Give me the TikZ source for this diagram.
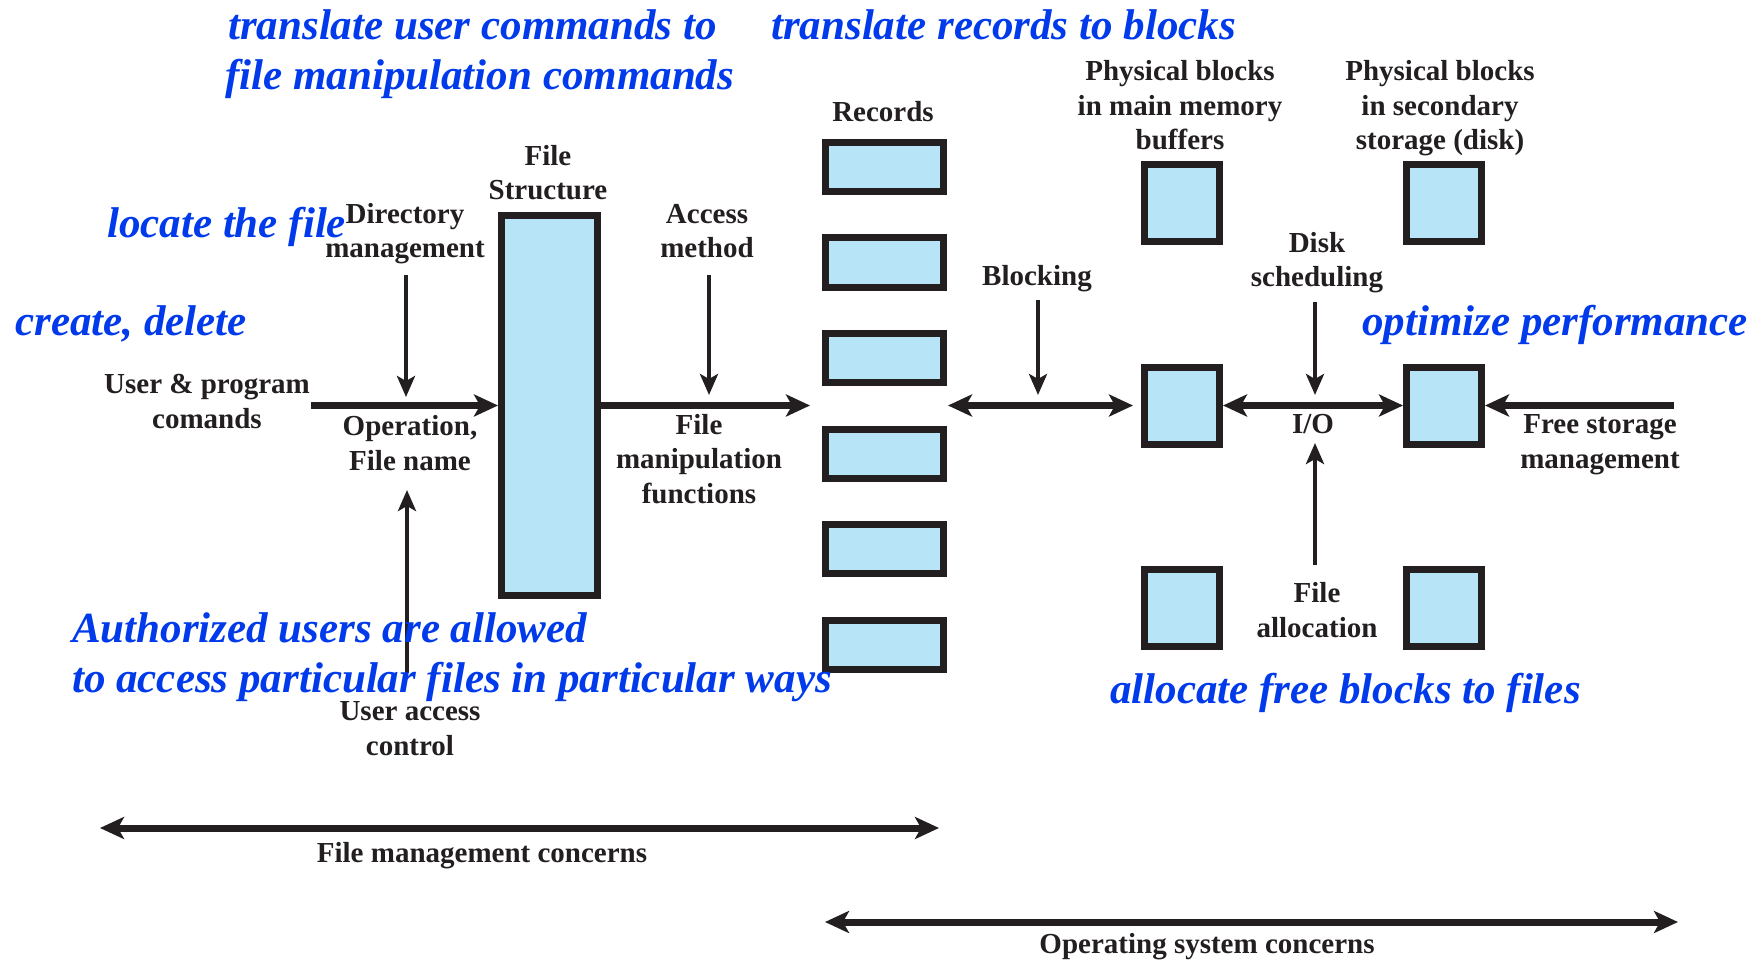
\documentclass[tikz,border=0pt]{standalone}
\usepackage{fontspec}
\setmainfont{Liberation Serif}
\usetikzlibrary{arrows.meta}
\definecolor{ink}{HTML}{231F20}
\definecolor{boxfill}{HTML}{B8E4F8}
\definecolor{note}{RGB}{0,58,235}
\tikzset{
  bigtip/.tip={Stealth[length=24pt,width=22pt,inset=6pt]},
  smalltip/.tip={Stealth[length=21pt,width=18pt,inset=5pt]}
}
\begin{document}
\begin{tikzpicture}[x=1pt,y=-1pt,
  blk/.style={draw=ink, fill=boxfill, line width=7pt, inner sep=0pt},
  rec/.style={blk, minimum width=118pt, minimum height=49pt},
  sq/.style={blk, minimum width=75pt, minimum height=77pt},
  % multi-line labels are placed by the baseline of their last line
  lbl/.style={text=ink, font=\bfseries\fontsize{29}{34.5}\selectfont, align=center, anchor=base, inner sep=0pt},
  remark/.style={text=note, font=\bfseries\itshape\fontsize{43}{50}\selectfont, anchor=base west, inner sep=0pt},
  flow/.style={draw=ink, line width=7pt, -bigtip},
  flowboth/.style={draw=ink, line width=7pt, bigtip-bigtip},
  ctl/.style={draw=ink, line width=4pt, -smalltip}
]
% canvas
\fill[white] (0,0) rectangle (1762,960);
\useasboundingbox (0,0) rectangle (1762,960);

% file structure and records
\node[blk, minimum width=96pt, minimum height=380pt] (fs) at (549.5,405.5) {};
\foreach \k in {0,...,5} {
  \node[rec] (r\k) at (884.5,{167+95.5*\k}) {};
}

% blocks in main memory and on disk
\node[sq] (mm1) at (1182,203) {};
\node[sq] (mm2) at (1182,405.5) {};
\node[sq] (mm3) at (1182,608) {};
\node[sq] (sd1) at (1444,203) {};
\node[sq] (sd2) at (1444,405.5) {};
\node[sq] (sd3) at (1444,608) {};

% free ends of the connectors
\coordinate (uin) at (311,405.5);
\coordinate (fmout) at (810,405.5);
\coordinate (dirtop) at (406,275);
\coordinate (dirend) at (406,397);
\coordinate (acctop) at (709,275);
\coordinate (accend) at (709,395);
\coordinate (uacbot) at (407,673);
\coordinate (uacend) at (407,490);
\coordinate (blkl) at (948,405.5);
\coordinate (blkr) at (1133,405.5);
\coordinate (blktop) at (1038,300);
\coordinate (blkend) at (1038,395);
\coordinate (dsktop) at (1315,302);
\coordinate (dskend) at (1315,395);
\coordinate (falbot) at (1315,565);
\coordinate (falend) at (1315,443);
\coordinate (fsm) at (1674,405.5);
\coordinate (fmcl) at (100,828);
\coordinate (fmcr) at (939,828);
\coordinate (oscl) at (825,922);
\coordinate (oscr) at (1678,922);

% connectors
\draw[flow] (uin) -- (fs.west);
\draw[flow] (fs.east) -- (fmout);
\draw[ctl] (dirtop) -- (dirend);
\draw[ctl] (acctop) -- (accend);
\draw[ctl] (uacbot) -- (uacend);
\draw[flowboth] (blkl) -- (blkr);
\draw[ctl] (blktop) -- (blkend);
\draw[flowboth] (mm2.east) -- (sd2.west);
\draw[ctl] (dsktop) -- (dskend);
\draw[ctl] (falbot) -- (falend);
\draw[flow] (fsm) -- (sd2.east);
\draw[flowboth] (fmcl) -- (fmcr);
\draw[flowboth] (oscl) -- (oscr);

% labels
\node[lbl] (lrec) at (883,122) {Records};
\node[lbl] (lfs) at (548,200) {File\\Structure};
\node[lbl] (ldir) at (405,258) {Directory\\management};
\node[lbl] (lacc) at (707,258) {Access\\method};
\node[lbl] (luser) at (207,428) {User \& program\\comands};
\node[lbl] (lop) at (410,470) {Operation,\\File name};
\node[lbl] (lfm) at (699,503) {File\\manipulation\\functions};
\node[lbl] (luac) at (410,755) {User access\\control};
\node[lbl] (lfmc) at (482,862) {File management concerns};
\node[lbl] (losc) at (1207,953) {Operating system concerns};
\node[lbl] (lpbm) at (1180,150) {Physical blocks\\in main memory\\buffers};
\node[lbl] (lpbs) at (1440,150) {Physical blocks\\in secondary\\storage (disk)};
\node[lbl] (lblk) at (1037,285) {Blocking};
\node[lbl] (ldsk) at (1317,287) {Disk\\scheduling};
\node[lbl] (lio) at (1313,433) {I/O};
\node[lbl] (lfree) at (1600,468) {Free storage\\management};
\node[lbl] (lfal) at (1317,637) {File\\allocation};

% annotations
\node[remark] (n1) at (228,40) {translate user commands to};
\node[remark] (n2) at (225,90) {file manipulation commands};
\node[remark] (n3) at (771,40) {translate records to blocks};
\node[remark] (n4) at (107,237) {locate the file};
\node[remark] (n5) at (15,335) {create, delete};
\node[remark] (n6) at (1362,335) {optimize performance};
\node[remark] (n7) at (72,642) {Authorized users are allowed};
\node[remark] (n8) at (72,692) {to access particular files in particular ways};
\node[remark] (n9) at (1110,703) {allocate free blocks to files};
\end{tikzpicture}
\end{document}
